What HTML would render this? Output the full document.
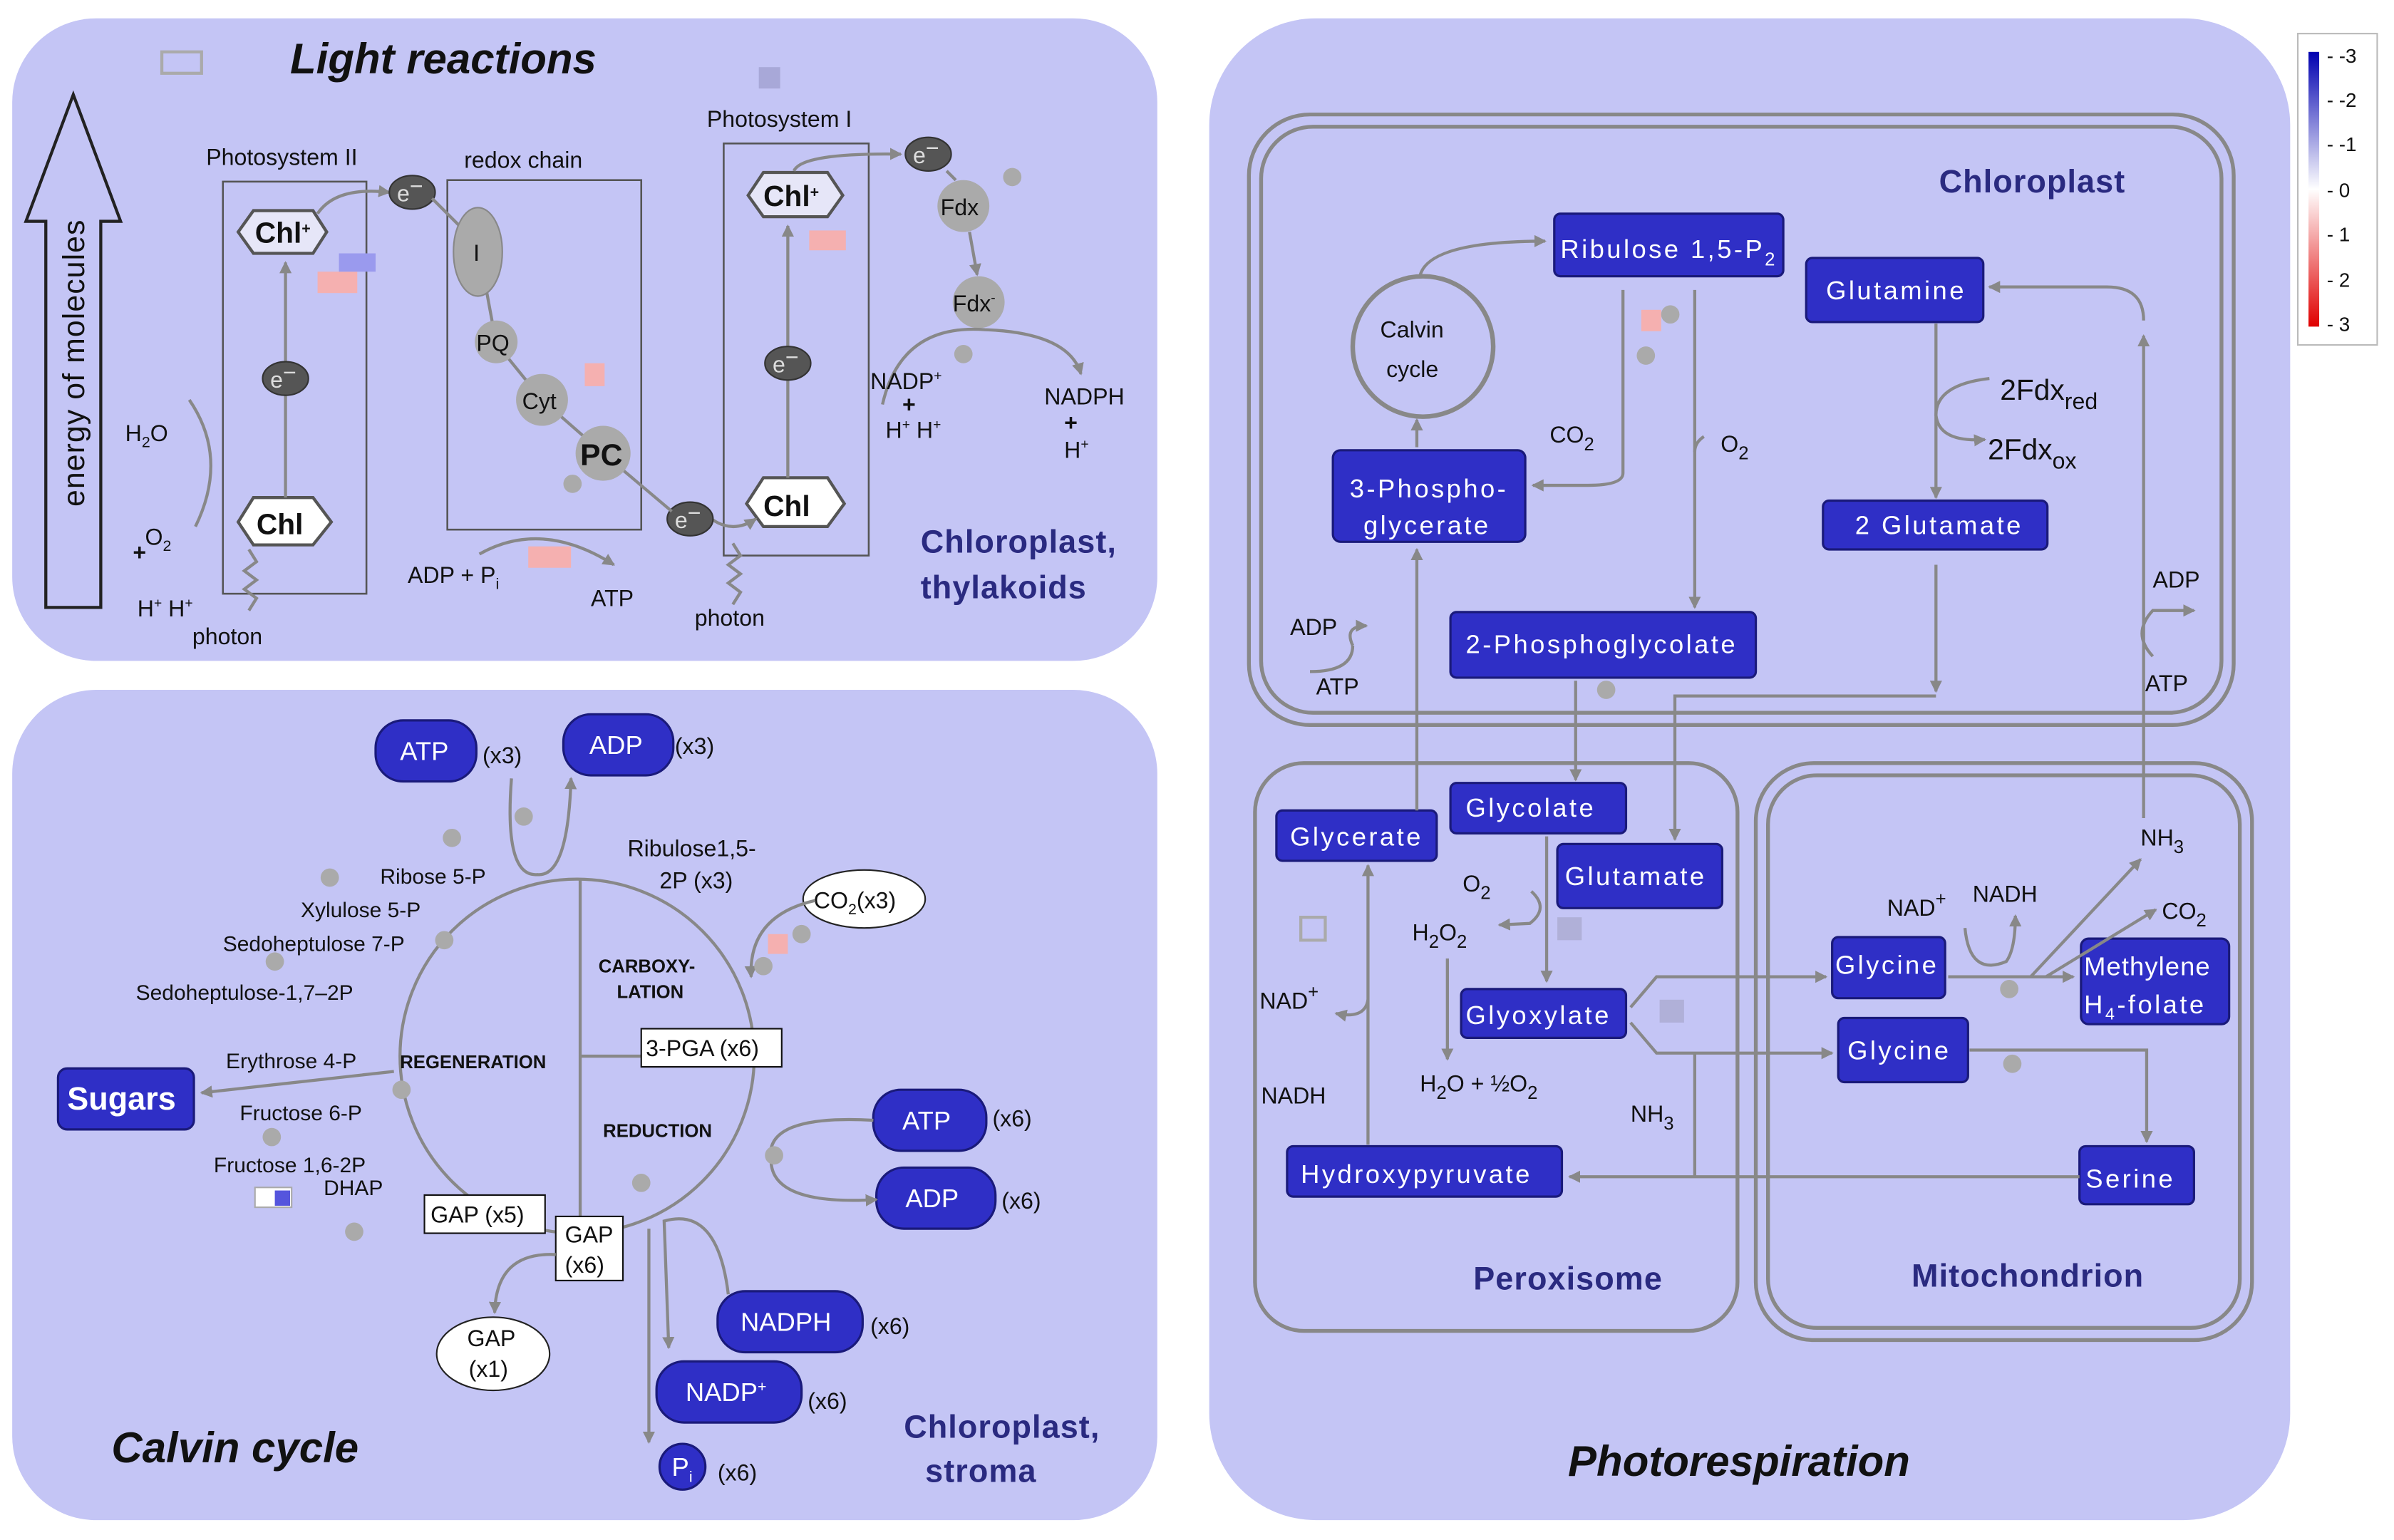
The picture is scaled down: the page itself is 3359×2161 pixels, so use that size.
<!DOCTYPE html>
<html><head><meta charset="utf-8"><style>
html,body{margin:0;padding:0;background:#fff}
svg{display:block}
text{font-family:"Liberation Sans",sans-serif}
.t{font-size:15px;fill:#111}
.w{font-size:17px;fill:#fff}
.pw{letter-spacing:1.6px}
.bx{fill:#2f2fc6;stroke:#1a1a7a;stroke-width:1.5}
.ln{stroke:#888;stroke-width:2;fill:none}
.dot{fill:#aaaaaa}
.org{font-size:21px;font-weight:bold;fill:#2a2a80;letter-spacing:0.5px}
.ttl{font-size:28px;font-weight:bold;font-style:italic;fill:#111}
</style></head><body>
<svg width="3359" height="2161" viewBox="0 0 1568 1009" preserveAspectRatio="none" xmlns="http://www.w3.org/2000/svg">
<defs>
<marker id="a" markerWidth="8" markerHeight="8" refX="7" refY="4" orient="auto" markerUnits="userSpaceOnUse"><path d="M0,0 L8,4 L0,8z" fill="#888"/></marker>
</defs>
<rect width="1568" height="1009" fill="#fff"/>
<rect x="8" y="12" width="750" height="421" rx="55" fill="#c4c5f5"/>
<rect x="8" y="452" width="750" height="544" rx="55" fill="#c4c5f5"/>
<rect x="792" y="12" width="708" height="984" rx="70" fill="#c4c5f5"/>
<rect x="1505" y="22" width="52" height="204" fill="#fff" stroke="#bbb"/>
<defs><linearGradient id="lg" x1="0" y1="0" x2="0" y2="1"><stop offset="0" stop-color="#0000b0"/><stop offset="0.5" stop-color="#fff"/><stop offset="1" stop-color="#e00000"/></linearGradient></defs>
<rect x="1512" y="34" width="7" height="180" fill="url(#lg)"/>
<g font-size="13" fill="#111"><text x="1524" y="41">- -3</text><text x="1524" y="70">- -2</text><text x="1524" y="99">- -1</text><text x="1524" y="129">- 0</text><text x="1524" y="158">- 1</text><text x="1524" y="188">- 2</text><text x="1524" y="217">- 3</text></g>

<text x="190" y="48" class="ttl">Light reactions</text>
<rect x="106" y="34" width="26" height="14" fill="none" stroke="#aaa" stroke-width="2"/>
<rect x="497" y="44" width="14" height="14" fill="#a8a8d8"/>
<path d="M30,398 L30,145 L17,145 L48,62 L79,145 L66,145 L66,398 Z" fill="none" stroke="#222" stroke-width="2"/>
<text transform="translate(55,332) rotate(-90)" font-size="20" fill="#111" letter-spacing="0.5">energy of molecules</text>
<rect x="146" y="119" width="94" height="270" fill="none" stroke="#555" stroke-width="1.2"/>
<rect x="293" y="118" width="127" height="229" fill="none" stroke="#555" stroke-width="1.2"/>
<rect x="474" y="94" width="95" height="270" fill="none" stroke="#555" stroke-width="1.2"/>
<text x="135" y="108" class="t" font-size="14">Photosystem II</text>
<text x="304" y="110" class="t" font-size="14">redox chain</text>
<text x="463" y="83" class="t" font-size="14">Photosystem I</text>
<g stroke="#555" stroke-width="2">
<path d="M156,152 L166,138 L205,138 L214,152 L205,166 L166,166Z" fill="#e6e6f8"/>
<path d="M156,342 L166,326 L205,326 L217,342 L205,357 L166,357Z" fill="#fff"/>
<path d="M490,128 L500,113 L542,113 L552,128 L542,142 L500,142Z" fill="#e6e6f8"/>
<path d="M489,330 L500,313 L542,313 L553,330 L542,345 L500,345Z" fill="#fff"/>
</g>
<g font-weight="bold" font-size="19" fill="#111"><text x="167" y="159">Chl<tspan font-size="10" dy="-6">+</tspan></text><text x="168" y="350">Chl</text><text x="500" y="135">Chl<tspan font-size="10" dy="-6">+</tspan></text><text x="500" y="338">Chl</text></g>
<path class="ln" d="M187,326 L187,172" marker-end="url(#a)"/>
<path class="ln" d="M516,313 L516,148" marker-end="url(#a)"/>
<path class="ln" d="M208,140 Q220,122 255,126" marker-end="url(#a)"/>
<path class="ln" d="M520,112 Q525,100 590,101" marker-end="url(#a)"/>
<path class="ln" d="M466,340 Q480,350 495,340" marker-end="url(#a)"/>
<g fill="#555" stroke="#333"><ellipse cx="187" cy="248" rx="15" ry="11"/><ellipse cx="270" cy="126" rx="15" ry="11"/><ellipse cx="516" cy="238" rx="15" ry="11"/><ellipse cx="608" cy="101" rx="15" ry="11"/><ellipse cx="452" cy="340" rx="15" ry="11"/></g>
<g fill="#ddd" font-size="15"><text x="177" y="254">e<tspan dy="-5">−</tspan></text><text x="260" y="132">e<tspan dy="-5">−</tspan></text><text x="506" y="244">e<tspan dy="-5">−</tspan></text><text x="598" y="107">e<tspan dy="-5">−</tspan></text><text x="442" y="346">e<tspan dy="-5">−</tspan></text></g>
<path class="ln" d="M283,130 L313,160 L325,225 L355,262 L395,297 L440,335" stroke-width="1.5"/>
<ellipse cx="313" cy="165" rx="16" ry="29" fill="#aaa" stroke="#888"/>
<text x="310" y="171" class="t">I</text>
<circle cx="325" cy="224" r="14" fill="#aaa"/><text x="312" y="230" class="t">PQ</text>
<circle cx="355" cy="262" r="17" fill="#aaa"/><text x="342" y="268" class="t">Cyt</text>
<circle cx="395" cy="297" r="18" fill="#aaa"/><text x="380" y="305" font-size="20" font-weight="bold" fill="#111">PC</text>
<circle cx="631" cy="135" r="17" fill="#aaa"/><text x="616" y="141" class="t">Fdx</text>
<circle cx="641" cy="198" r="17" fill="#aaa"/><text x="624" y="204" class="t">Fdx<tspan font-size="9" dy="-6">-</tspan></text>
<path class="ln" d="M620,112 L626,118" />
<path class="ln" d="M635,152 L640,180" marker-end="url(#a)"/>
<circle cx="663" cy="116" r="6" class="dot"/><circle cx="631" cy="232" r="6" class="dot"/><circle cx="375" cy="317" r="6" class="dot"/>
<path class="ln" d="M578,265 Q590,212 645,216 Q700,218 708,245" marker-end="url(#a)"/>
<g class="t" font-size="15"><text x="570" y="255">NADP<tspan font-size="9" dy="-6">+</tspan></text><text x="591" y="270" font-weight="bold">+</text><text x="580" y="287">H<tspan font-size="9" dy="-6">+</tspan><tspan dy="6"> H</tspan><tspan font-size="9" dy="-6">+</tspan></text>
<text x="684" y="265">NADPH</text><text x="697" y="282" font-weight="bold">+</text><text x="697" y="300">H<tspan font-size="9" dy="-6">+</tspan></text></g>
<path class="ln" d="M124,262 Q150,300 128,345" stroke-width="1.5"/>
<g class="t"><text x="82" y="289">H<tspan font-size="10" dy="4">2</tspan><tspan dy="-4">O</tspan></text><text x="95" y="357">O<tspan font-size="10" dy="4">2</tspan></text><text x="87" y="367" font-weight="bold">+</text>
<text x="90" y="404">H<tspan font-size="9" dy="-6">+</tspan><tspan dy="6"> H</tspan><tspan font-size="9" dy="-6">+</tspan></text>
<text x="126" y="422">photon</text><text x="455" y="410">photon</text>
<text x="267" y="382">ADP + P<tspan font-size="10" dy="4">i</tspan></text><text x="387" y="397">ATP</text></g>
<path class="ln" d="M163,400 l5,-8 l-8,-6 l8,-6 l-8,-6 l8,-6 l-5,-8" stroke="#333" stroke-width="1.5"/>
<path class="ln" d="M480,396 l5,-8 l-8,-6 l8,-6 l-8,-6 l8,-6 l-5,-8" stroke="#333" stroke-width="1.5"/>
<path class="ln" d="M314,363 Q355,340 402,370" marker-end="url(#a)"/>
<rect x="346" y="358" width="28" height="14" fill="#f5b0b0"/>
<rect x="383" y="238" width="13" height="15" fill="#f5b0b0"/>
<rect x="530" y="151" width="24" height="13" fill="#f5b0b0"/>
<rect x="208" y="178" width="26" height="14" fill="#f5b0b0"/><rect x="222" y="166" width="24" height="12" fill="#9a9aee"/>
<text x="603" y="362" class="org">Chloroplast,</text><text x="603" y="392" class="org">thylakoids</text>

<text x="73" y="958" class="ttl">Calvin cycle</text>
<text x="592" y="942" class="org">Chloroplast,</text><text x="606" y="971" class="org">stroma</text>
<circle cx="378" cy="692" r="116" class="ln" stroke-width="2.5"/>
<path class="ln" d="M380,576 L380,815 M380,692 L420,692" stroke="#111" stroke-width="1.3"/>
<g font-size="12" font-weight="bold" fill="#111"><text x="392" y="637">CARBOXY-</text><text x="404" y="654">LATION</text><text x="262" y="700">REGENERATION</text><text x="395" y="745">REDUCTION</text></g>
<rect x="420" y="674" width="92" height="25" fill="#fff" stroke="#111"/><text x="423" y="692" class="t">3-PGA (x6)</text>
<rect x="278" y="783" width="79" height="25" fill="#fff" stroke="#111"/><text x="282" y="801" class="t">GAP (x5)</text>
<rect x="364" y="797" width="44" height="42" fill="#fff" stroke="#111"/><text x="370" y="814" class="t">GAP</text><text x="370" y="834" class="t">(x6)</text>
<ellipse cx="323" cy="887" rx="37" ry="24" fill="#fff" stroke="#222"/><text x="306" y="882" class="t">GAP</text><text x="307" y="902" class="t">(x1)</text>
<ellipse cx="566" cy="589" rx="40" ry="19" fill="#fff" stroke="#222"/><text x="533" y="595" class="t">CO<tspan font-size="10" dy="4">2</tspan><tspan dy="-4">(x3)</tspan></text>
<g class="bx"><rect x="246" y="472" width="66" height="40" rx="18"/><rect x="369" y="468" width="72" height="40" rx="18"/><rect x="572" y="714" width="74" height="40" rx="18"/><rect x="574" y="765" width="78" height="40" rx="18"/><rect x="470" y="846" width="95" height="40" rx="18"/><rect x="430" y="892" width="95" height="40" rx="18"/><circle cx="447" cy="961" r="15"/><rect x="38" y="700" width="89" height="40" rx="6"/></g>
<g class="w"><text x="262" y="498">ATP</text><text x="386" y="494">ADP</text><text x="591" y="740">ATP</text><text x="593" y="791">ADP</text><text x="485" y="872">NADPH</text><text x="449" y="918">NADP<tspan font-size="10" dy="-6">+</tspan></text><text x="440" y="967">P<tspan font-size="10" dy="4">i</tspan></text><text x="44" y="727" font-size="21" font-weight="bold">Sugars</text></g>
<g class="t"><text x="316" y="500">(x3)</text><text x="442" y="494">(x3)</text><text x="650" y="738">(x6)</text><text x="656" y="792">(x6)</text><text x="570" y="874">(x6)</text><text x="529" y="923">(x6)</text><text x="470" y="970">(x6)</text>
<text x="411" y="561">Ribulose1,5-</text><text x="432" y="582">2P (x3)</text>
<text x="249" y="579" font-size="14">Ribose 5-P</text><text x="197" y="601" font-size="14">Xylulose 5-P</text><text x="146" y="623" font-size="14">Sedoheptulose 7-P</text><text x="89" y="655" font-size="14">Sedoheptulose-1,7–2P</text>
<text x="148" y="700" font-size="14">Erythrose 4-P</text><text x="157" y="734" font-size="14">Fructose 6-P</text><text x="140" y="768" font-size="14">Fructose 1,6-2P</text><text x="212" y="783" font-size="14">DHAP</text></g>
<path class="ln" d="M335,510 Q330,575 352,573 Q372,575 374,510" marker-end="url(#a)"/>
<path class="ln" d="M258,702 L132,716" marker-end="url(#a)"/>
<path class="ln" d="M572,734 Q500,730 505,760 Q505,790 574,786" marker-end="url(#a)"/>
<path class="ln" d="M477,848 Q470,790 435,800 L438,883" marker-end="url(#a)"/>
<path class="ln" d="M425,805 L425,945" marker-end="url(#a)"/>
<path class="ln" d="M364,822 Q325,820 324,860" marker-end="url(#a)"/>
<path class="ln" d="M534,590 Q490,600 492,640" marker-end="url(#a)"/>
<rect x="167" y="778" width="24" height="13" fill="#fff" stroke="#aaa"/><rect x="180" y="780" width="10" height="10" fill="#5555dd"/>
<rect x="503" y="612" width="13" height="13" fill="#f5b0b0"/>
<g class="dot"><circle cx="296" cy="549" r="6"/><circle cx="343" cy="535" r="6"/><circle cx="216" cy="575" r="6"/><circle cx="291" cy="616" r="6"/><circle cx="180" cy="630" r="6"/><circle cx="263" cy="714" r="6"/><circle cx="178" cy="745" r="6"/><circle cx="232" cy="807" r="6"/><circle cx="420" cy="775" r="6"/><circle cx="507" cy="757" r="6"/><circle cx="525" cy="612" r="6"/><circle cx="500" cy="633" r="6"/></g>

<text x="1027" y="967" class="ttl">Photorespiration</text>
<g fill="none" stroke="#888" stroke-width="2.5">
<rect x="818" y="75" width="645" height="400" rx="40"/><rect x="826" y="83" width="629" height="384" rx="34"/>
<rect x="822" y="500" width="316" height="372" rx="32"/>
<rect x="1150" y="500" width="325" height="378" rx="38"/><rect x="1158" y="508" width="309" height="362" rx="32"/>
</g>
<text x="1270" y="126" class="org">Chloroplast</text><text x="965" y="845" class="org">Peroxisome</text><text x="1252" y="843" class="org">Mitochondrion</text>
<circle cx="932" cy="227" r="46" fill="none" stroke="#888" stroke-width="3"/>
<text x="904" y="221" class="t" font-size="19">Calvin</text><text x="908" y="247" class="t" font-size="19">cycle</text>
<g class="bx">
<rect x="1018" y="140" width="150" height="41" rx="4"/><rect x="1183" y="169" width="116" height="42" rx="4"/>
<rect x="873" y="295" width="126" height="60" rx="5"/><rect x="1194" y="328" width="147" height="32" rx="4"/>
<rect x="950" y="401" width="200" height="43" rx="4"/>
<rect x="836" y="531" width="105" height="33" rx="4"/><rect x="950" y="513" width="115" height="33" rx="4"/><rect x="1020" y="553" width="108" height="42" rx="4"/>
<rect x="957" y="648" width="108" height="32" rx="4"/><rect x="1200" y="614" width="74" height="40" rx="4"/><rect x="1204" y="667" width="85" height="42" rx="4"/>
<rect x="1363" y="615" width="97" height="56" rx="5"/><rect x="843" y="751" width="180" height="33" rx="4"/><rect x="1362" y="751" width="75" height="38" rx="4"/>
</g>
<g class="w pw" font-size="19">
<text x="1022" y="169">Ribulose 1,5-P<tspan font-size="12" dy="5">2</tspan></text><text x="1196" y="196">Glutamine</text>
<text x="884" y="326">3-Phospho-</text><text x="893" y="350">glycerate</text><text x="1215" y="350">2 Glutamate</text>
<text x="960" y="428">2-Phosphoglycolate</text>
<text x="845" y="554">Glycerate</text><text x="960" y="535">Glycolate</text><text x="1025" y="580">Glutamate</text>
<text x="960" y="671">Glyoxylate</text><text x="1202" y="638">Glycine</text><text x="1210" y="694">Glycine</text>
<text x="1365" y="639" letter-spacing="0.5">Methylene</text><text x="1365" y="664">H<tspan font-size="11" dy="4">4</tspan><tspan dy="-4">-folate</tspan></text>
<text x="852" y="775">Hydroxypyruvate</text><text x="1366" y="778">Serine</text>
</g>
<g class="t" font-size="18">
<text x="1015" y="290">CO<tspan font-size="12" dy="5">2</tspan></text><text x="1127" y="296">O<tspan font-size="12" dy="5">2</tspan></text>
<text x="1310" y="262" font-size="19">2Fdx<tspan font-size="15" dy="6">red</tspan></text><text x="1302" y="301" font-size="19">2Fdx<tspan font-size="15" dy="6">ox</tspan></text>
<text x="845" y="416">ADP</text><text x="862" y="455">ATP</text><text x="1410" y="385">ADP</text><text x="1405" y="453">ATP</text>
<text x="1402" y="554">NH<tspan font-size="12" dy="5">3</tspan></text><text x="1416" y="602">CO<tspan font-size="12" dy="5">2</tspan></text>
<text x="1236" y="600">NAD<tspan font-size="12" dy="-7">+</tspan></text><text x="1292" y="591">NADH</text>
<text x="958" y="584">O<tspan font-size="12" dy="5">2</tspan></text><text x="925" y="616">H<tspan font-size="12" dy="5">2</tspan><tspan dy="-5">O</tspan><tspan font-size="12" dy="5">2</tspan></text>
<text x="825" y="661">NAD<tspan font-size="12" dy="-7">+</tspan></text><text x="826" y="723">NADH</text>
<text x="930" y="715">H<tspan font-size="12" dy="5">2</tspan><tspan dy="-5">O + ½O</tspan><tspan font-size="12" dy="5">2</tspan></text>
<text x="1068" y="735">NH<tspan font-size="12" dy="5">3</tspan></text>
</g>
<g class="ln">
<path d="M930,181 Q935,158 1012,158" marker-end="url(#a)"/>
<path d="M928,293 L928,275" marker-end="url(#a)"/>
<path d="M1063,190 L1063,310 Q1063,318 1040,318 L1004,318" marker-end="url(#a)"/>
<path d="M1110,190 L1110,398" marker-end="url(#a)"/>
<path d="M1116,286 Q1110,290 1110,296"/>
<path d="M1268,212 L1268,326" marker-end="url(#a)"/>
<path d="M1303,248 Q1268,252 1268,272 Q1270,290 1300,288" marker-end="url(#a)"/>
<path d="M1268,370 L1268,453" marker-end="url(#a)"/>
<path d="M1268,456 L1097,456 L1097,550" marker-end="url(#a)"/>
<path d="M1404,536 L1404,220" marker-end="url(#a)"/>
<path d="M1404,210 Q1404,188 1380,188 L1303,188" marker-end="url(#a)"/>
<path d="M1410,430 Q1396,415 1410,400 L1437,400" marker-end="url(#a)"/>
<path d="M928,531 L928,360" marker-end="url(#a)"/>
<path d="M886,423 Q880,410 895,410" marker-end="url(#a)"/>
<path d="M858,440 Q886,440 886,423"/>
<path d="M1032,446 L1032,511" marker-end="url(#a)"/>
<path d="M1013,548 L1013,643" marker-end="url(#a)"/>
<path d="M1003,584 Q1015,595 1002,605 L982,606" marker-end="url(#a)"/>
<path d="M948,628 L948,694" marker-end="url(#a)"/>
<path d="M896,750 L896,567" marker-end="url(#a)"/>
<path d="M896,655 Q894,668 875,664" marker-end="url(#a)"/>
<path d="M1068,660 L1085,640 L1196,640" marker-end="url(#a)"/>
<path d="M1068,670 L1085,690 L1200,690" marker-end="url(#a)"/>
<path d="M1276,640 L1358,640" marker-end="url(#a)"/>
<path d="M1287,608 Q1290,640 1314,630 Q1320,622 1320,600" marker-end="url(#a)"/>
<path d="M1330,640 L1402,563" marker-end="url(#a)"/>
<path d="M1340,640 L1412,596" marker-end="url(#a)"/>
<path d="M1290,688 L1406,688 L1406,748" marker-end="url(#a)"/>
<path d="M1362,771 L1028,771" marker-end="url(#a)"/>
<path d="M1110,690 L1110,771"/>
</g>
<rect x="1075" y="203" width="13" height="14" fill="#f5b0b0"/>
<rect x="852" y="601" width="16" height="15" fill="none" stroke="#aaa" stroke-width="2"/><rect x="1020" y="601" width="16" height="15" fill="#b0b0d8"/><rect x="1087" y="655" width="16" height="15" fill="#b0b0d8"/>
<g class="dot"><circle cx="1094" cy="206" r="6"/><circle cx="1078" cy="233" r="6"/><circle cx="1052" cy="452" r="6"/><circle cx="1316" cy="648" r="6"/><circle cx="1318" cy="697" r="6"/></g>
</svg>
</body></html>
